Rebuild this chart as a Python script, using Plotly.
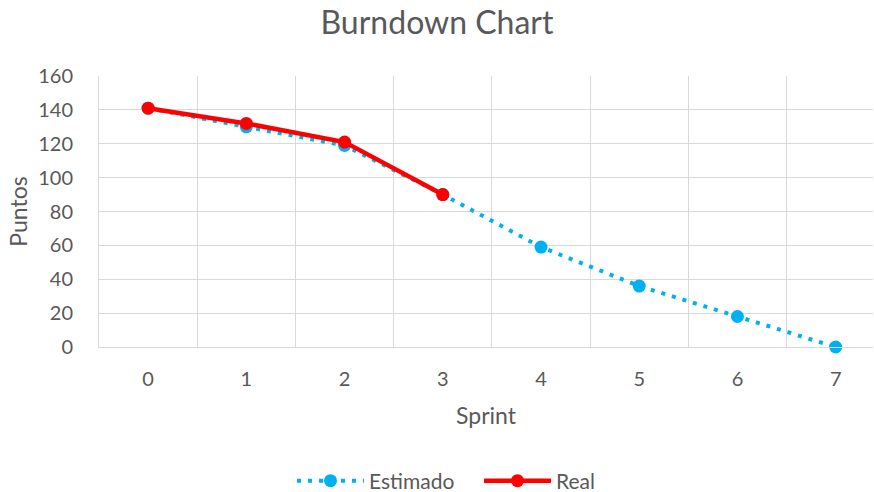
import plotly.graph_objects as go

sprints = [0, 1, 2, 3, 4, 5, 6, 7]
estimado = [141, 130, 119, 90, 59, 36, 18, 0]
real_sprints = [0, 1, 2, 3]
real = [141, 132, 121, 90]

FONT = "Lato, 'Open Sans', sans-serif"
TXT = "#595959"
GRID = "#D9D9D9"

W, H = 874, 492

fig = go.Figure()
fig.add_trace(go.Scatter(
    x=sprints, y=estimado, name="Estimado", mode="lines+markers",
    line=dict(color="#00B0F0", width=4, dash="4px,7px"),
    marker=dict(color="#00B0F0", size=13), cliponaxis=False,
))
fig.add_trace(go.Scatter(
    x=real_sprints, y=real, name="Real", mode="lines+markers",
    line=dict(color="#FF0000", width=4.5),
    marker=dict(color="#FF0000", size=13), cliponaxis=False,
))

fig.update_layout(
    width=W, height=H,
    margin=dict(l=99, r=1, t=76, b=145),
    paper_bgcolor="white", plot_bgcolor="white",
    font=dict(family=FONT, color=TXT, size=20),
    title=dict(text="Burndown Chart", x=0.5, xanchor="center",
               y=1 - 23 / H, yanchor="middle", font=dict(size=32, color=TXT)),
    legend=dict(orientation="h", xref="container", yref="container",
                x=292 / W, xanchor="left", y=(H - 481) / H, yanchor="middle",
                font=dict(size=21, color=TXT), itemwidth=67,
                entrywidth=105, entrywidthmode="pixels"),
    showlegend=True,
)
fig.update_xaxes(
    range=[-0.5, 7.38], tickmode="array", tickvals=sprints, ticktext=[str(s) for s in sprints],
    showgrid=False, zeroline=False, showline=True, linecolor=GRID, linewidth=1,
    ticklabelstandoff=14, automargin=False,
    minor=dict(tickmode="array", tickvals=[i + 0.5 for i in range(-1, 8)], showgrid=True,
               gridcolor=GRID, gridwidth=1),
    title=dict(text="Sprint", font=dict(size=23, color=TXT), standoff=18),
)
fig.update_yaxes(
    range=[0, 160], tickmode="array", tickvals=list(range(0, 161, 20)),
    showgrid=True, gridcolor=GRID, gridwidth=1, zeroline=False,
    showline=True, linecolor=GRID, ticklabelstandoff=21, automargin=False,
    title=dict(text="Puntos", font=dict(size=23, color=TXT), standoff=4),
)

fig.write_html("out.html", config={"displayModeBar": False},
               post_script="document.body.style.margin='0px';")
